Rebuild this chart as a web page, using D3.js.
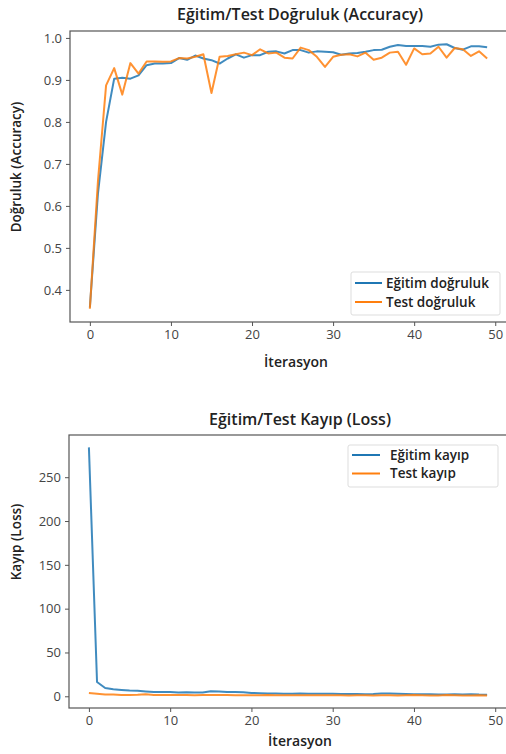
<!DOCTYPE html>
<html><head><meta charset="utf-8">
<script src="https://cdn.jsdelivr.net/npm/d3@7/dist/d3.min.js"></script>
<style>
html,body{margin:0;padding:0;background:#fff;}
text{font-family:"Open Sans","Noto Sans",sans-serif;}
</style></head>
<body>
<svg id="chart" width="506" height="754"></svg>
<script>
const epochs = d3.range(50);
const trainAcc = [0.358,0.63,0.80,0.903,0.905,0.903,0.911,0.935,0.939,0.939,
  0.940,0.952,0.948,0.958,0.951,0.947,0.939,0.951,0.961,0.953,
  0.959,0.959,0.967,0.968,0.963,0.971,0.971,0.965,0.968,0.967,
  0.966,0.960,0.963,0.964,0.967,0.971,0.972,0.979,0.983,0.981,
  0.981,0.981,0.979,0.984,0.985,0.976,0.972,0.980,0.980,0.978];
const testAcc = [0.355,0.66,0.887,0.928,0.865,0.940,0.915,0.944,0.944,0.943,
  0.944,0.952,0.951,0.955,0.961,0.869,0.955,0.957,0.961,0.965,
  0.959,0.973,0.963,0.965,0.953,0.951,0.977,0.971,0.955,0.931,
  0.955,0.960,0.961,0.956,0.965,0.948,0.953,0.965,0.967,0.936,
  0.975,0.961,0.963,0.979,0.953,0.976,0.973,0.957,0.968,0.951];
const trainLoss = [284,16.3,9.5,8.0,7.2,6.5,6.2,5.6,5.0,4.8,
  5.0,4.3,4.6,4.2,4.3,5.8,5.6,5.0,4.9,4.5,
  3.8,3.5,3.2,3.3,3.0,3.0,3.2,3.0,2.9,3.0,
  2.8,2.6,2.7,2.5,2.4,2.6,3.2,3.3,2.8,2.5,
  2.4,2.3,2.2,2.1,2.0,2.3,2.1,2.4,2.0,1.9];
const testLoss = [3.8,2.8,2.0,2.1,1.6,1.5,1.7,2.2,1.6,1.5,
  1.6,1.4,1.5,1.3,1.4,1.5,1.6,1.4,1.3,1.2,
  1.3,1.2,1.4,1.3,1.2,1.1,1.3,1.2,1.3,1.1,
  1.2,1.1,1.0,1.1,1.2,1.0,1.1,1.2,1.0,1.3,
  1.4,1.1,1.0,1.0,1.4,1.2,0.9,1.0,1.3,0.8];
const xTicks = [0,10,20,30,40,50];
const accTicks = [0.4,0.5,0.6,0.7,0.8,0.9,1.0];
const lossTicks = [0,50,100,150,200,250];
const accTitle = "Eğitim/Test Doğruluk (Accuracy)";
const lossTitle = "Eğitim/Test Kayıp (Loss)";
const xLabel = "İterasyon";
const accYLabel = "Doğruluk (Accuracy)";
const lossYLabel = "Kayıp (Loss)";
const accLegend = ["Eğitim doğruluk","Test doğruluk"];
const lossLegend = ["Eğitim kayıp","Test kayıp"];

const C1 = "#1f77b4", C2 = "#ff7f0e";
const svg = d3.select("#chart");

function margins(ext){ const r = ext[1]-ext[0]; return [ext[0]-0.05*r, ext[1]+0.05*r]; }

function panel(cfg){
  const g = svg.append("g");
  const {L,R,T,B} = cfg;
  const x = d3.scaleLinear().domain(margins([0,49])).range([L,R]);
  const all = cfg.series[0].concat(cfg.series[1]);
  const y = d3.scaleLinear().domain(margins(d3.extent(all))).range([B,T]);
  const clipId = "clip"+cfg.id;
  svg.append("clipPath").attr("id",clipId).append("rect")
    .attr("x",L).attr("y",T).attr("width",R-L).attr("height",B-T);
  const line = d3.line().x((d,i)=>x(epochs[i])).y(d=>y(d));
  cfg.series.forEach((s,k)=>{
    g.append("path").datum(s).attr("d",line).attr("fill","none")
      .attr("stroke",k===0?C1:C2).attr("stroke-width",2).attr("stroke-opacity",0.85)
      .attr("stroke-linejoin","round").attr("clip-path","url(#"+clipId+")");
  });
  const xa = g.append("g").attr("transform",`translate(0,${B})`)
    .call(d3.axisBottom(x).tickValues(xTicks).tickSize(4).tickPadding(4).tickFormat(d3.format("d")));
  const ya = g.append("g").attr("transform",`translate(${L},0)`)
    .call(d3.axisLeft(y).tickValues(cfg.yTicks).tickSize(4).tickPadding(4).tickFormat(cfg.fmt));
  [xa,ya].forEach(a=>{
    a.select(".domain").remove();
    a.selectAll(".tick line").attr("stroke","#555").attr("stroke-width",1);
    a.selectAll(".tick text").attr("fill","#444").style("font-size","13px");
  });
  g.append("rect").attr("x",L).attr("y",T).attr("width",R-L).attr("height",B-T)
    .attr("fill","none").attr("stroke","#555").attr("stroke-width",1.2);
  g.append("text").attr("x",cfg.titleX).attr("y",cfg.titleY).attr("text-anchor","middle")
    .attr("fill","#222").style("font-size","16px").style("font-weight","600").text(cfg.title);
  g.append("text").attr("x",cfg.xlX).attr("y",cfg.xlY).attr("text-anchor","middle")
    .attr("fill","#222").style("font-size","14px").style("font-weight","600").text(xLabel);
  g.append("text").attr("transform",`translate(${cfg.ylX},${cfg.ylY}) rotate(-90)`)
    .attr("text-anchor","middle").attr("fill","#222").style("font-size","13.5px")
    .style("font-weight","600").text(cfg.ylabel);
  const lg = cfg.leg;
  g.append("rect").attr("x",lg.x).attr("y",lg.y).attr("width",lg.w).attr("height",lg.h)
    .attr("rx",2).attr("fill","#fff").attr("fill-opacity",0.9).attr("stroke","#ddd");
  cfg.legendText.forEach((t,k)=>{
    const yy = lg.rows[k];
    g.append("line").attr("x1",lg.lx1).attr("x2",lg.lx2).attr("y1",yy).attr("y2",yy)
      .attr("stroke",k===0?C1:C2).attr("stroke-width",2);
    g.append("text").attr("x",lg.tx).attr("y",yy+4.5).attr("fill","#222")
      .style("font-size","13.5px").style("font-weight","600").text(t);
  });
}

panel({id:1, L:70, R:507, T:31, B:322, series:[trainAcc,testAcc], yTicks:accTicks,
  fmt:d3.format(".1f"), title:accTitle, titleX:300, titleY:20, xlX:296, xlY:367,
  ylX:21, ylY:167, ylabel:accYLabel, legendText:accLegend,
  leg:{x:351, y:272, w:149, h:43, rows:[283,302], lx1:355, lx2:382, tx:386}});

panel({id:2, L:69, R:507, T:435, B:708, series:[trainLoss,testLoss], yTicks:lossTicks,
  fmt:d3.format("d"), title:lossTitle, titleX:300, titleY:425, xlX:300, xlY:746,
  ylX:21, ylY:542, ylabel:lossYLabel, legendText:lossLegend,
  leg:{x:348, y:445, w:150, h:42, rows:[455,473.5], lx1:352, lx2:380, tx:390}});
</script>
</body></html>
